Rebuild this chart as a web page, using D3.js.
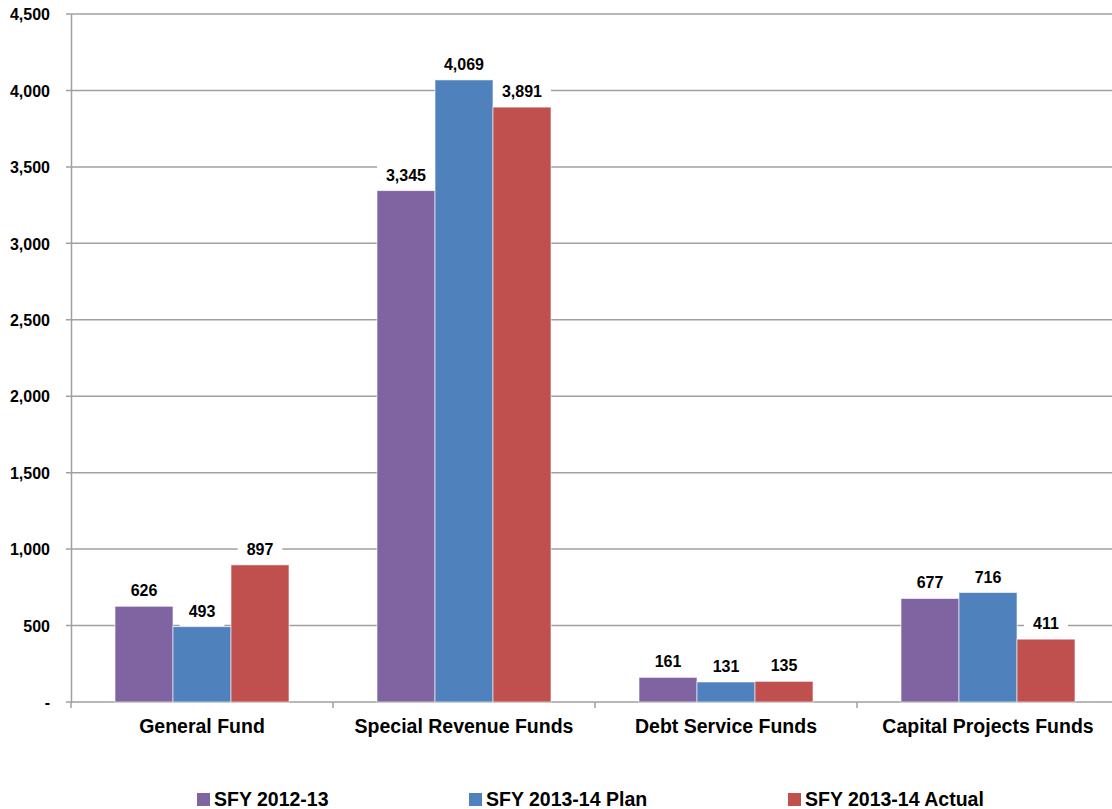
<!DOCTYPE html>
<html><head><meta charset="utf-8">
<script src="https://cdn.jsdelivr.net/npm/d3@7"></script>
<style>body{margin:0;background:#fff}svg{display:block}text{font-family:"Liberation Sans",Arial,sans-serif;font-weight:bold;fill:#000}</style>
</head><body><svg id="c" width="1112" height="809"></svg>
<script>
const categories = ["General Fund","Special Revenue Funds","Debt Service Funds","Capital Projects Funds"];
const seriesNames = ["SFY 2012-13","SFY 2013-14 Plan","SFY 2013-14 Actual"];
const sfy1213 = [626,3345,161,677];
const sfy1314Plan = [493,4069,131,716];
const sfy1314Actual = [897,3891,135,411];
const yTicks = [0,500,1000,1500,2000,2500,3000,3500,4000,4500];
const colors = ["#8064A2","#4F81BD","#C0504D"];
const seriesValues = [sfy1213, sfy1314Plan, sfy1314Actual];

(function(){
const svg = d3.select("#c");
const mLeft = 71, mRight = 1119, mTop = 14, mBottom = 702;
const x = d3.scaleBand().domain(categories).range([mLeft, mRight]).paddingInner(0).paddingOuter(0);
const y = d3.scaleLinear().domain([0,4500]).range([mBottom, mTop]);
const barW = 58;
const x1 = d3.scaleBand().domain(seriesNames).range([0, barW*3]);
const groupOff = (x.bandwidth() - barW*3)/2;
const fmt = d3.format(",");

// gridlines
svg.append("g").selectAll("line").data(yTicks.filter(d=>d>0)).join("line")
  .attr("x1", mLeft-5).attr("x2", 1112).attr("y1", d=>y(d)).attr("y2", d=>y(d))
  .attr("stroke", "#a0a0a0").attr("stroke-width", 1.5);

// y axis
const yAxis = d3.axisLeft(y).tickValues(yTicks).tickSize(0).tickPadding(21)
  .tickFormat(d => d === 0 ? "-" : fmt(d));
const gy = svg.append("g").attr("transform", `translate(${mLeft},0)`).call(yAxis);
gy.select(".domain").attr("stroke","#a0a0a0").attr("stroke-width",1.5);
gy.selectAll("text").style("font-size","16px").attr("dy","0.36em");
svg.append("line").attr("x1",mLeft-5).attr("x2",mLeft).attr("y1",mBottom).attr("y2",mBottom).attr("stroke","#a0a0a0").attr("stroke-width",1.5);

// x axis
svg.append("line").attr("x1",mLeft).attr("x2",1112).attr("y1",mBottom).attr("y2",mBottom).attr("stroke","#a0a0a0").attr("stroke-width",1.5);
const bounds = categories.map(c=>x(c)).concat([mRight]);
svg.append("g").selectAll("line").data(bounds).join("line")
  .attr("x1",d=>d).attr("x2",d=>d).attr("y1",mBottom).attr("y2",mBottom+6)
  .attr("stroke","#a0a0a0").attr("stroke-width",1.5);
svg.append("g").selectAll("text").data(categories).join("text")
  .attr("x", d=>x(d)+x.bandwidth()/2).attr("y", 733).attr("text-anchor","middle")
  .style("font-size","19.5px").text(d=>d);

// bars
const bars = [];
seriesValues.forEach((vals, si) => vals.forEach((v, ci) => bars.push({si, ci, v})));
const bx = d => x(categories[d.ci]) + groupOff + x1(seriesNames[d.si]);
svg.append("g").selectAll("rect").data(bars).join("rect")
  .attr("x", bx).attr("width", barW)
  .attr("y", d=>y(d.v)).attr("height", d=>mBottom - y(d.v))
  .attr("fill", d=>colors[d.si]).attr("stroke","#fff").attr("stroke-opacity",0.6).attr("stroke-width",1);

// labels with white background boxes
const lg = svg.append("g");
const boxes = lg.append("g");
const labels = lg.append("g").selectAll("text").data(bars).join("text")
  .attr("x", d=>bx(d)+barW/2).attr("y", d=>y(d.v)-10).attr("text-anchor","middle")
  .style("font-size","16px").text(d=>fmt(d.v));
labels.each(function(d){
  const w = this.getComputedTextLength();
  boxes.append("rect").attr("x", bx(d)+barW/2 - w/2 - 9).attr("width", w+18)
    .attr("y", y(d.v)-26).attr("height", 25.5).attr("fill","#fff");
});

// legend
const legX = [197, 469, 788];
const leg = svg.append("g").selectAll("g").data(seriesNames).join("g")
  .attr("transform",(d,i)=>`translate(${legX[i]},0)`);
leg.append("rect").attr("x",0).attr("y",793).attr("width",13).attr("height",13).attr("fill",(d,i)=>colors[i]);
leg.append("text").attr("x",17).attr("y",806).style("font-size","19.5px").text(d=>d);
})();
</script></body></html>
